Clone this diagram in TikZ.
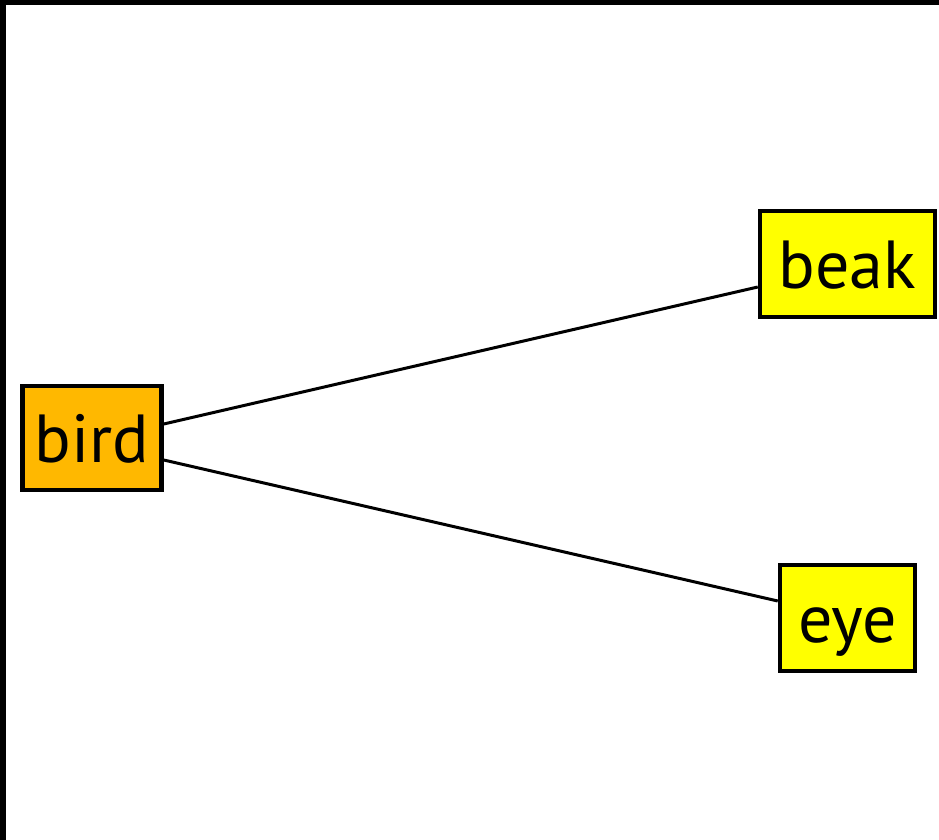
\documentclass[tikz,border=0pt]{standalone}
\usepackage{fontspec}
\setmainfont{PT Sans}
\definecolor{birdorange}{RGB}{255,184,0}
\definecolor{partyellow}{RGB}{255,255,0}
\tikzset{
  box/.style={draw=black, line width=4.5pt, inner sep=0pt, text height=64pt, text depth=16pt, font=\fontsize{68}{68}\selectfont, text=black},
  link/.style={draw=black, line width=3pt}
}
\begin{document}
\begin{tikzpicture}[x=1pt,y=-1pt]
\useasboundingbox (0,0) rectangle (939,840);
\fill[white] (0,0) rectangle (939,840);
\fill[black] (0,0) rectangle (939,5);
\fill[black] (0,0) rectangle (6,840);
\node[box, fill=birdorange, minimum width=139pt, minimum height=104pt] (bird) at (92,438) {bird};
\node[box, fill=partyellow, minimum width=175pt, minimum height=106pt] (beak) at (847.5,264) {beak};
\node[box, fill=partyellow, minimum width=135pt, minimum height=106pt] (eye) at (847.5,618) {eye};
\draw[link] ([yshift=14pt]bird.east) -- ([yshift=-23pt]beak.west);
\draw[link] ([yshift=-22pt]bird.east) -- ([yshift=17pt]eye.west);
\end{tikzpicture}
\end{document}
